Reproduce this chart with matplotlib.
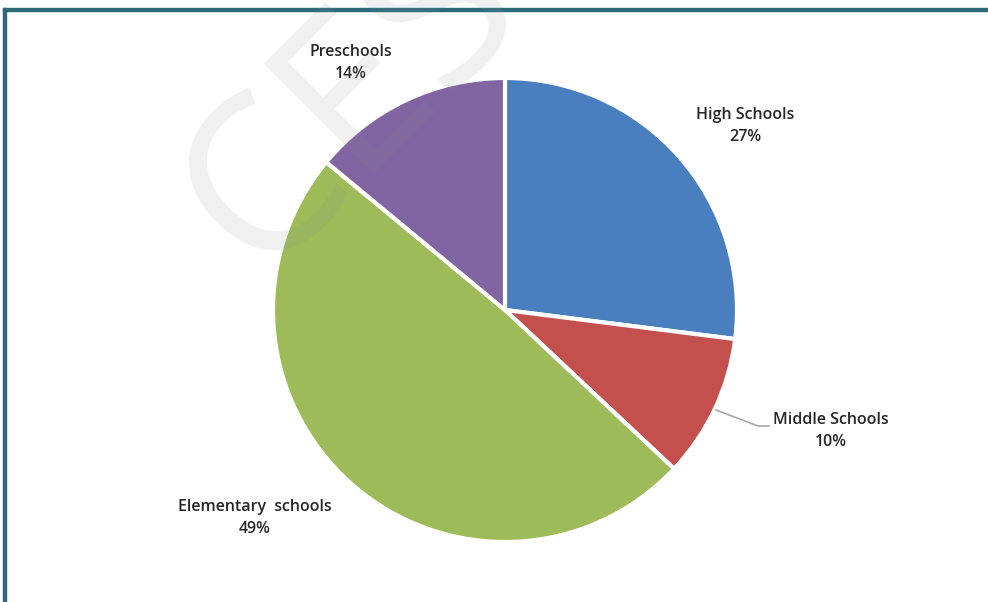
import matplotlib.pyplot as plt
from matplotlib.patches import Rectangle

# school type shares (%)
categories = ['High Schools', 'Middle Schools', 'Elementary  schools', 'Preschools']
shares = [27, 10, 49, 14]
colors = ['#4a7fbf', '#c4504d', '#9dbb59', '#8065a2']

# label positions in pixels (x, y from top)
label_pos = [(745, 126), (831, 431), (255, 518), (351, 63)]

plt.rcParams['font.family'] = ['Open Sans', 'DejaVu Sans']

fig = plt.figure(figsize=(9.88, 6.02), dpi=100)
ax = fig.add_axes([0, 0, 1, 1])
ax.set_xlim(0, 988)
ax.set_ylim(0, 602)
ax.set_aspect('equal')
ax.axis('off')

# pie, center/radius in pixel units
H = 602
ax.pie(shares, colors=colors, startangle=90, counterclock=False,
       center=(505, H - 310), radius=232,
       wedgeprops=dict(edgecolor='white', linewidth=3))
ax.set_xlim(0, 988)
ax.set_ylim(0, 602)

# labels
for name, val, (x, y) in zip(categories, shares, label_pos):
    ax.text(x, H - y, f'{name}\n{val}%', ha='center', va='center',
            fontsize=11.5, color='#262626', linespacing=1.55, fontweight=600)

# leader line for middle schools
ax.plot([716, 758, 769], [H - 410, H - 426, H - 426], color='#a6a6a6', lw=1.2)

# frame: top and left border
ax.add_patch(Rectangle((3, 0), 3, H - 8, color='#2b6a7a', clip_on=False))
ax.add_patch(Rectangle((3, H - 11), 985, 3, color='#2b6a7a', clip_on=False))

# watermark
ax.text(352, H - 102, 'CES', fontsize=158, color='#8c8c8c', alpha=0.13,
        rotation=45, ha='center', va='center', fontweight='normal',
        family='Open Sans', zorder=10)

fig.savefig('out.png', dpi=100)
